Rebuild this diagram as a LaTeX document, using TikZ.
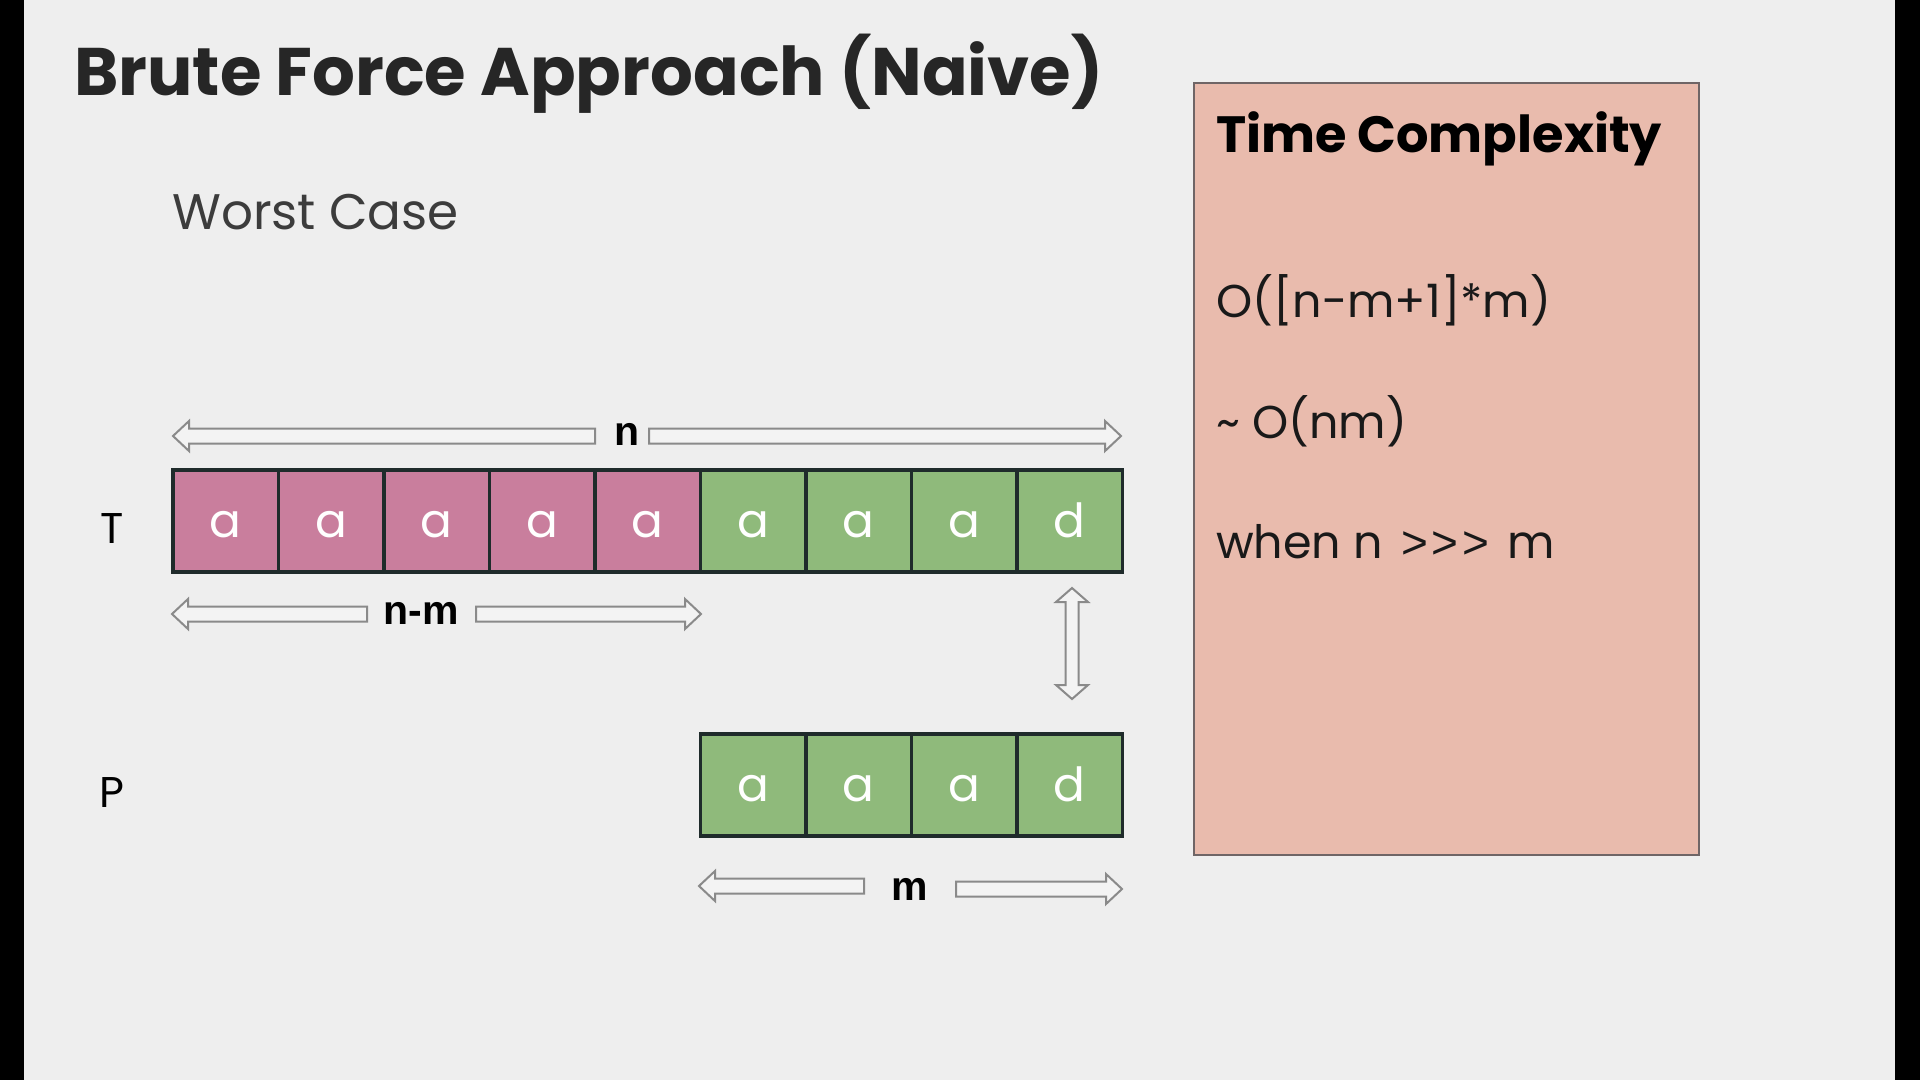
\documentclass[tikz,border=0pt]{standalone}
\usepackage{fontspec}
\setmainfont{Poppins}
\newfontfamily\labfont{Liberation Sans}
\usetikzlibrary{calc}
\definecolor{bg}{HTML}{EEEEEE}
\definecolor{pinkc}{HTML}{C97E9D}
\definecolor{greenc}{HTML}{8FBA7B}
\definecolor{celledge}{HTML}{1F2B2B}
\definecolor{arrline}{HTML}{8A8A8A}
\definecolor{arrfill}{HTML}{F3F3F3}
\definecolor{boxfill}{HTML}{E9BBAD}
\definecolor{boxedge}{HTML}{6F6566}
\definecolor{titlec}{HTML}{262626}
\begin{document}
\begin{tikzpicture}[x=1pt,y=-1pt,
  cell/.style={draw=celledge, line width=3.2pt, minimum width=105.5pt, minimum height=102pt,
    inner sep=0pt, outer sep=0pt, anchor=north west, text=white, font=\fontsize{47}{50}\selectfont,
    text height=32pt, text depth=0pt},
  pinkcell/.style={cell, fill=pinkc},
  greencell/.style={cell, fill=greenc},
  txt/.style={anchor=base west, inner sep=0pt, text=titlec},
  dimlab/.style={inner sep=0pt, text=black, font=\labfont\bfseries\fontsize{41}{44}\selectfont},
  blockarr/.style={draw=arrline, fill=arrfill, line width=2pt, line join=miter,
    to path={ ($(\tikztotarget)!16pt!(\tikztostart)$) coordinate (ahb)
      ($(\tikztostart)!7.5pt!90:(\tikztotarget)$) -- ($(ahb)!7.5pt!90:(\tikztotarget)$)
      -- ($(ahb)!15pt!90:(\tikztotarget)$) -- (\tikztotarget)
      -- ($(ahb)!15pt!-90:(\tikztotarget)$) -- ($(ahb)!7.5pt!-90:(\tikztotarget)$)
      -- ($(\tikztostart)!7.5pt!-90:(\tikztotarget)$) -- cycle }},
  dblarr/.style={draw=arrline, fill=arrfill, line width=2pt, line join=miter,
    to path={ ($(\tikztostart)!14pt!(\tikztotarget)$) coordinate (dha)
      ($(\tikztotarget)!14pt!(\tikztostart)$) coordinate (dhb)
      (\tikztostart) -- ($(dha)!16pt!90:(\tikztotarget)$) -- ($(dha)!6.5pt!90:(\tikztotarget)$)
      -- ($(dhb)!6.5pt!90:(\tikztotarget)$) -- ($(dhb)!16pt!90:(\tikztotarget)$)
      -- (\tikztotarget) -- ($(dhb)!16pt!-90:(\tikztotarget)$) -- ($(dhb)!6.5pt!-90:(\tikztotarget)$)
      -- ($(dha)!6.5pt!-90:(\tikztotarget)$) -- ($(dha)!16pt!-90:(\tikztotarget)$) -- cycle }}
]
% background and frame bars
\fill[bg] (0,0) rectangle (1920,1080);
\fill[black] (0,0) rectangle (24,1080);
\fill[black] (1895,0) rectangle (1920,1080);
\useasboundingbox (0,0) rectangle (1920,1080);

% title and subtitle
\node[txt, font=\bfseries\fontsize{67.3}{70}\selectfont] (title) at (74,95) {Brute Force Approach (Naive)};
\node[txt, font=\fontsize{50}{56}\selectfont, text=titlec!90] (worst) at (172,229) {Worst Case};

% row labels
\node[anchor=base, inner sep=0pt, font=\fontsize{43}{46}\selectfont, text=black] (Tlab) at (112,543) {T};
\node[anchor=base, inner sep=0pt, font=\fontsize{43}{46}\selectfont, text=black] (Plab) at (112,807) {P};

% text row T
\node[pinkcell] (t1) at (173,470) {a};
\node[pinkcell] (t2) at (t1.north east) {a};
\node[pinkcell] (t3) at (t2.north east) {a};
\node[pinkcell] (t4) at (t3.north east) {a};
\node[pinkcell] (t5) at (t4.north east) {a};
\node[greencell] (t6) at (t5.north east) {a};
\node[greencell] (t7) at (t6.north east) {a};
\node[greencell] (t8) at (t7.north east) {a};
\node[greencell] (t9) at (t8.north east) {d};

% pattern row P
\node[greencell] (p1) at (t6.north west |- 0,734) {a};
\node[greencell] (p2) at (p1.north east) {a};
\node[greencell] (p3) at (p2.north east) {a};
\node[greencell] (p4) at (p3.north east) {d};

% dimension labels
\node[dimlab] (nlab) at (627,434) {n};
\node[dimlab] (nmlab) at (421,613) {n-m};
\node[dimlab] (mlab) at (910,889) {m};

% arrow end points
\coordinate (nAt) at (595,436);  \coordinate (nAh) at (173,436);
\coordinate (nBt) at (649,436);  \coordinate (nBh) at (1121,436);
\coordinate (nmAt) at (367,614); \coordinate (nmAh) at (172,614);
\coordinate (nmBt) at (476,614); \coordinate (nmBh) at (701,614);
\coordinate (mAt) at (864,886);  \coordinate (mAh) at (699,886);
\coordinate (mBt) at (956,889);  \coordinate (mBh) at (1122,889);
\coordinate (vTop) at (1072,588); \coordinate (vBot) at (1072,699);

\draw[blockarr] (nAt) to (nAh);
\draw[blockarr] (nBt) to (nBh);
\draw[blockarr] (nmAt) to (nmAh);
\draw[blockarr] (nmBt) to (nmBh);
\draw[blockarr] (mAt) to (mAh);
\draw[blockarr] (mBt) to (mBh);
\draw[dblarr] (vTop) to (vBot);

% time complexity panel
\draw[fill=boxfill, draw=boxedge, line width=2.5pt] (1194,83) rectangle (1699,855);
\node[txt, text=black, font=\bfseries\fontsize{51}{56}\selectfont] (tc) at (1216,152) {Time Complexity};
\node[txt, text=black!90, font=\fontsize{46}{50}\selectfont] (f1) at (1216,317) {O([n-m+1]*m)};
\node[txt, text=black!90, font=\fontsize{46}{50}\selectfont] (f2) at (1216,438) {\char`\~{} O(nm)};
\node[txt, text=black!90, font=\fontsize{46}{50}\selectfont] (f3) at (1216,558) {when n\hspace{18pt}{\labfont\fontsize{46}{48}\selectfont >\kern4pt>\kern4pt>}\hspace{18pt}m};
\end{tikzpicture}
\end{document}
